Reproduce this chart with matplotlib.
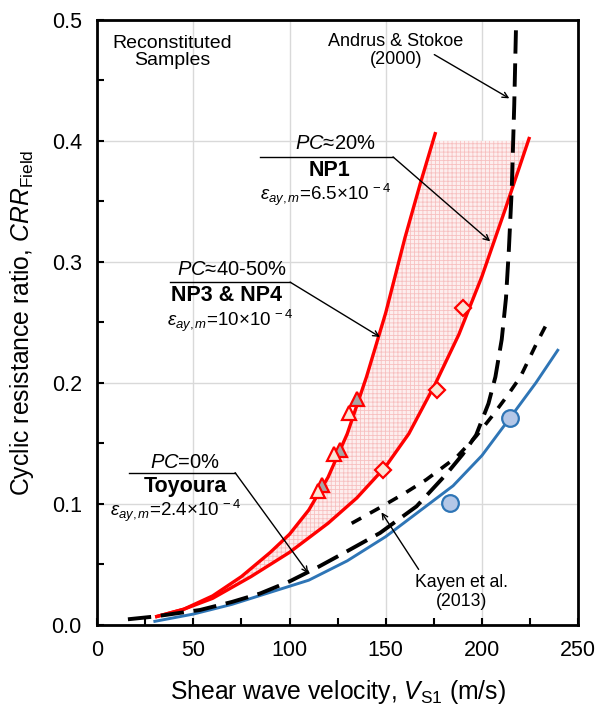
import numpy as np
import matplotlib
matplotlib.use('Agg')
import matplotlib.pyplot as plt
from matplotlib.ticker import MultipleLocator, FormatStrFormatter

plt.rcParams['font.family'] = ['Liberation Sans', 'DejaVu Sans']
plt.rcParams['mathtext.fontset'] = 'custom'
plt.rcParams['mathtext.rm'] = 'Liberation Sans'
plt.rcParams['mathtext.it'] = 'Liberation Sans:italic'
plt.rcParams['mathtext.bf'] = 'Liberation Sans:bold'
plt.rcParams['hatch.linewidth'] = 0.6

# 曲线数据 (Vs1 in m/s, CRR)
np34_vs = [31, 45, 60, 75, 90, 100, 110, 120, 130, 140, 150, 160, 168, 175.7]
np34_crr = [0.007, 0.013, 0.024, 0.040, 0.060, 0.075, 0.095, 0.122, 0.158, 0.205,
            0.258, 0.32, 0.365, 0.406]

np1_vs = [31, 45, 60, 80, 100, 120, 135, 150, 162, 176, 188, 200, 212, 224.5]
np1_crr = [0.007, 0.013, 0.022, 0.040, 0.060, 0.084, 0.105, 0.131, 0.158, 0.2,
           0.24, 0.288, 0.343, 0.402]

toy_vs = [30, 50, 70, 90, 110, 130, 150, 170, 185, 200, 215, 228, 239.4]
toy_crr = [0.003, 0.009, 0.017, 0.027, 0.037, 0.053, 0.073, 0.097, 0.115, 0.14,
           0.172, 0.2, 0.227]

andrus_vs = [16, 30, 53.5, 70, 84.7, 100, 115, 130, 147, 166, 181.7, 190, 197,
             203.4, 207, 210.3, 212.5, 214, 215.5, 216.8, 217.8]
andrus_crr = [0.0047, 0.007, 0.0124, 0.019, 0.026, 0.036, 0.048, 0.061, 0.076, 0.098,
              0.125, 0.141, 0.157, 0.183, 0.205, 0.236, 0.27, 0.31, 0.36, 0.43, 0.5]

kayen_vs = [132.3, 147, 160, 171, 187, 197, 205, 213, 220, 228.5, 233.4]
kayen_crr = [0.084, 0.097, 0.109, 0.12, 0.139, 0.156, 0.172, 0.189, 0.205, 0.233, 0.248]

# 试验点
tri_gray_vs = [116.8, 126, 135]
tri_gray_crr = [0.116, 0.145, 0.1865]
tri_peach_vs = [115, 123.3, 131.1]
tri_peach_crr = [0.111, 0.141, 0.175]
dia_vs = [148.8, 176.5, 190.4]
dia_crr = [0.128, 0.194, 0.262]
circ_vs = [183.5, 214.7]
circ_crr = [0.1006, 0.171]

RED = '#ff0000'
BLUE = '#2e75b6'

fig = plt.figure(figsize=(5.96, 7.11), dpi=100)
ax = fig.add_axes([0.163, 0.121, 0.807, 0.851])

# 阴影区域
yy = np.linspace(0.007, 0.4, 300)
xl = np.interp(yy, np34_crr, np34_vs)
xr = np.interp(yy, np1_crr, np1_vs)
ax.fill_betweenx(yy, xl, xr, facecolor='#fdeeee', edgecolor='#f7c0c0',
                 hatch='++++', linewidth=0, zorder=1)

ax.plot(np34_vs, np34_crr, color=RED, lw=2.4, zorder=3)
ax.plot(np1_vs, np1_crr, color=RED, lw=2.4, zorder=3)
ax.plot(toy_vs, toy_crr, color=BLUE, lw=2.1, zorder=3)
ax.plot(andrus_vs, andrus_crr, color='black', lw=2.8, dashes=(6, 2.5), zorder=4)
ax.plot(kayen_vs, kayen_crr, color='black', lw=2.6, dashes=(3, 2.8), zorder=4)

ax.plot(tri_gray_vs, tri_gray_crr, '^', ms=10.5, mfc='#a6a6a6', mec=RED, mew=1.6, zorder=5)
ax.plot(tri_peach_vs, tri_peach_crr, '^', ms=10.5, mfc='#fbe5d6', mec=RED, mew=1.6, zorder=6)
ax.plot(dia_vs, dia_crr, 'D', ms=8.5, mfc='#fbe5d6', mec=RED, mew=1.6, zorder=5)
ax.plot(circ_vs, circ_crr, 'o', ms=12, mfc='#b4c7e7', mec=BLUE, mew=1.6, zorder=5)

ax.set_xlim(0, 250)
ax.set_ylim(0, 0.5)
ax.xaxis.set_major_locator(MultipleLocator(50))
ax.xaxis.set_minor_locator(MultipleLocator(25))
ax.yaxis.set_major_locator(MultipleLocator(0.1))
ax.yaxis.set_minor_locator(MultipleLocator(0.05))
ax.yaxis.set_major_formatter(FormatStrFormatter('%.1f'))
ax.tick_params(which='both', direction='in', width=1.5, labelsize=15.5)
ax.tick_params(which='major', length=5, pad=11)
ax.tick_params(which='minor', length=5)
ax.grid(True, which='major', color='#d9d9d9', lw=1)
ax.set_axisbelow(True)
for s in ax.spines.values():
    s.set_linewidth(2)

ax.set_xlabel(r'Shear wave velocity, $\mathit{V}_{\mathrm{S1}}$ (m/s)', fontsize=17.8, labelpad=12)
ax.set_ylabel(r'Cyclic resistance ratio, $\mathit{CRR}_{\mathrm{Field}}$', fontsize=17.8, labelpad=11)

# 文字标注
ax.text(39, 0.4735, 'Reconstituted\nSamples', fontsize=14, ha='center', va='center',
        linespacing=1.0)
ax.text(155.2, 0.475, 'Andrus & Stokoe\n(2000)', fontsize=13, ha='center', va='center',
        linespacing=1.1)
ax.annotate('', xy=(215.5, 0.434), xytext=(174, 0.4725),
            arrowprops=dict(arrowstyle='->', lw=1, color='black'))
ax.text(189.4, 0.0273, 'Kayen et al.\n(2013)', fontsize=12.7, ha='center', va='center',
        linespacing=1.1)
ax.annotate('', xy=(147, 0.095), xytext=(167.9, 0.044),
            arrowprops=dict(arrowstyle='->', lw=1, color='black'))

# NP1
ax.text(123.8, 0.398, r'$\mathit{PC}$≈20%', fontsize=14.5, ha='center', va='center')
ax.plot([84.7, 153.8], [0.3868, 0.3868], color='black', lw=1)
ax.annotate('', xy=(204.3, 0.317), xytext=(153.8, 0.3868),
            arrowprops=dict(arrowstyle='->', lw=1, color='black', shrinkA=0, shrinkB=0))
ax.text(121, 0.3755, 'NP1', fontsize=15.5, fontweight='bold', ha='center', va='center')
ax.text(118.5, 0.3555, r'$\mathit{\varepsilon_{ay,m}}$=6.5×10$^{\mathrm{\,-4}}$', fontsize=13.5,
        ha='center', va='center')

# NP3 & NP4
ax.text(70, 0.294, r'$\mathit{PC}$≈40-50%', fontsize=14.5, ha='center', va='center')
ax.plot([37.9, 100.3], [0.2833, 0.2833], color='black', lw=1)
ax.annotate('', xy=(147, 0.238), xytext=(100.3, 0.2833),
            arrowprops=dict(arrowstyle='->', lw=1, color='black', shrinkA=0, shrinkB=0))
ax.text(67.4, 0.2725, 'NP3 & NP4', fontsize=15.5, fontweight='bold', ha='center', va='center')
ax.text(69, 0.2515, r'$\mathit{\varepsilon_{ay,m}}$=10×10$^{\mathrm{\,-4}}$', fontsize=13.5,
        ha='center', va='center')

# Toyoura
ax.text(45.7, 0.134, r'$\mathit{PC}$=0%', fontsize=14.5, ha='center', va='center')
ax.plot([16.4, 71.7], [0.1259, 0.1259], color='black', lw=1)
ax.annotate('', xy=(109.8, 0.0427), xytext=(71.7, 0.1259),
            arrowprops=dict(arrowstyle='->', lw=1, color='black', shrinkA=0, shrinkB=0))
ax.text(45.7, 0.1145, 'Toyoura', fontsize=15.5, fontweight='bold', ha='center', va='center')
ax.text(40.5, 0.0945, r'$\mathit{\varepsilon_{ay,m}}$=2.4×10$^{\mathrm{\,-4}}$', fontsize=13.5,
        ha='center', va='center')

fig.savefig('out.png', dpi=100)
